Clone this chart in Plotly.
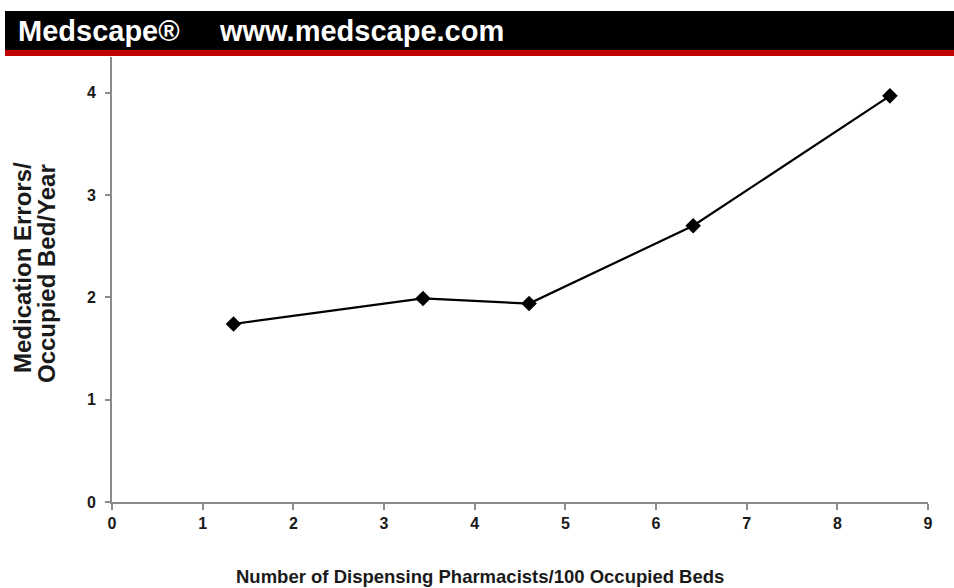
import plotly.graph_objects as go

pharmacists = [1.34, 3.43, 4.60, 6.41, 8.58]
errors = [1.74, 1.99, 1.94, 2.70, 3.97]
x_ticks = [0, 1, 2, 3, 4, 5, 6, 7, 8, 9]
y_ticks = [0, 1, 2, 3, 4]

W, H = 954, 588
L, R, T, B = 112, 26, 57, 86
pw, ph = W - L - R, H - T - B

def px(xp):
    return (xp - L) / pw

def py(yp):
    return (H - B - yp) / ph

fig = go.Figure()
fig.add_trace(go.Scatter(
    x=pharmacists, y=errors, mode="lines+markers",
    line=dict(color="black", width=2.2),
    marker=dict(symbol="diamond", size=12, color="black"),
    showlegend=False, cliponaxis=False,
))

font_main = "Liberation Sans, Arial"
txt = "#1a1a1a"

fig.update_layout(
    width=W, height=H,
    margin=dict(l=L, r=R, t=T, b=B),
    paper_bgcolor="white", plot_bgcolor="white",
    xaxis=dict(range=[0, 9], tickvals=x_ticks, showgrid=False, zeroline=False,
               showline=True, linecolor="#8a8a8a", linewidth=2,
               ticks="outside", ticklen=6, tickcolor="#8a8a8a", tickwidth=1.5,
               tickfont=dict(family=font_main, size=16, color=txt, weight="bold")),
    yaxis=dict(range=[0, 4.35], tickvals=y_ticks, showgrid=False, zeroline=False,
               showline=True, linecolor="#8a8a8a", linewidth=2,
               ticks="outside", ticklen=5, tickcolor="#8a8a8a", tickwidth=1.5,
               ticklabelstandoff=6,
               tickfont=dict(family=font_main, size=16, color=txt, weight="bold")),
)

# axis titles
fig.add_annotation(xref="paper", yref="paper", x=px(480), y=py(576),
                   xanchor="center", yanchor="middle", showarrow=False,
                   text="<b>Number of Dispensing Pharmacists/100 Occupied Beds</b>",
                   font=dict(family=font_main, size=18.5, color=txt))
fig.add_annotation(xref="paper", yref="paper", x=px(22), y=py(268),
                   xanchor="center", yanchor="middle", showarrow=False, textangle=-90,
                   text="<b>Medication Errors/</b>",
                   font=dict(family=font_main, size=24, color=txt))
fig.add_annotation(xref="paper", yref="paper", x=px(46), y=py(274),
                   xanchor="center", yanchor="middle", showarrow=False, textangle=-90,
                   text="<b>Occupied Bed/Year</b>",
                   font=dict(family=font_main, size=24, color=txt))

# header band
fig.add_shape(type="rect", xref="paper", yref="paper",
              x0=px(5), x1=px(W + 5), y0=py(50), y1=py(11),
              fillcolor="black", line=dict(width=0), layer="above")
fig.add_shape(type="rect", xref="paper", yref="paper",
              x0=px(5), x1=px(W + 5), y0=py(56), y1=py(50),
              fillcolor="#c00000", line=dict(width=0), layer="above")

fig.add_annotation(xref="paper", yref="paper", x=px(16), y=py(31),
                   xanchor="left", yanchor="middle", showarrow=False,
                   text="<b>Medscape®</b>",
                   font=dict(family=font_main, size=29, color="white"))
fig.add_annotation(xref="paper", yref="paper", x=px(217), y=py(31),
                   xanchor="left", yanchor="middle", showarrow=False,
                   text="<b>www.medscape.com</b>",
                   font=dict(family=font_main, size=29, color="white"))

fig.write_html("out.html", config={"displayModeBar": False},
               post_script="document.body.style.margin='0';")
